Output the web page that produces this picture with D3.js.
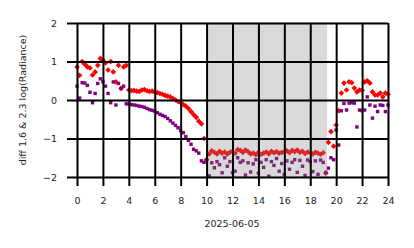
<!DOCTYPE html>
<html>
<head>
<meta charset="utf-8">
<script src="https://cdn.jsdelivr.net/npm/d3@7"></script>
<style>
  html, body { margin: 0; padding: 0; background: #fff; }
  svg text { font-family: "DejaVu Sans", sans-serif; fill: #222; }
</style>
</head>
<body>
<svg id="chart" width="414" height="248"></svg>
<script>
// hours of day (2025-06-05), one sample every 0.2 h
const hours = [
  0.0, 0.2, 0.4, 0.6, 0.8, 1.0, 1.2, 1.4, 1.6, 1.8,
  2.0, 2.2, 2.4, 2.6, 2.8, 3.0, 3.2, 3.4, 3.6, 3.8,
  4.0, 4.2, 4.4, 4.6, 4.8, 5.0, 5.2, 5.4, 5.6, 5.8,
  6.0, 6.2, 6.4, 6.6, 6.8, 7.0, 7.2, 7.4, 7.6, 7.8,
  8.0, 8.2, 8.4, 8.6, 8.8, 9.0, 9.2, 9.4, 9.6, 9.8,
  10.0, 10.2, 10.4, 10.6, 10.8, 11.0, 11.2, 11.4, 11.6, 11.8,
  12.0, 12.2, 12.4, 12.6, 12.8, 13.0, 13.2, 13.4, 13.6, 13.8,
  14.0, 14.2, 14.4, 14.6, 14.8, 15.0, 15.2, 15.4, 15.6, 15.8,
  16.0, 16.2, 16.4, 16.6, 16.8, 17.0, 17.2, 17.4, 17.6, 17.8,
  18.0, 18.2, 18.4, 18.6, 18.8, 19.0, 19.2, 19.4, 19.6, 19.8,
  20.0, 20.2, 20.4, 20.6, 20.8, 21.0, 21.2, 21.4, 21.6, 21.8,
  22.0, 22.2, 22.4, 22.6, 22.8, 23.0, 23.2, 23.4, 23.6, 23.8,
  24.0
];

// red diamonds
const diffRed = [
  0.86, 0.64, 1.00, 0.93, 0.86, 0.83, 0.65, 0.73, 0.90, 1.08,
  1.04, 0.96, 0.78, 1.00, 0.73, 0.47, 0.90, 0.30, 0.86, 0.90,
  0.26, 0.24, 0.25, 0.23, 0.22, 0.26, 0.27, 0.24, 0.22, 0.23,
  0.21, 0.19, 0.17, 0.15, 0.12, 0.10, 0.08, 0.04, 0.00, -0.04,
  -0.07, -0.12, -0.16, -0.22, -0.30, -0.38, -0.45, -0.55, -0.62, -1.00,
  -1.55, -1.40, -1.32, -1.36, -1.40, -1.33, -1.38, -1.35, -1.40, -1.36,
  -1.33, -1.38, -1.29, -1.31, -1.36, -1.30, -1.34, -1.40, -1.38, -1.42,
  -1.36, -1.41, -1.38, -1.35, -1.40, -1.33, -1.37, -1.34, -1.38, -1.36,
  -1.35, -1.32, -1.37, -1.31, -1.34, -1.30, -1.36, -1.33, -1.39, -1.35,
  -1.37, -1.40, -1.36, -1.38, -1.41, -1.37, -1.90, -1.10, -0.82, -1.20,
  -0.65, -0.28, 0.18, 0.44, 0.26, 0.47, 0.45, 0.31, 0.21, 0.26,
  0.25, 0.47, 0.50, 0.44, 0.21, 0.13, 0.13, 0.18, 0.08, 0.18,
  0.15
];

// purple squares
const diffPurple = [
  0.36, 0.05, 0.45, 0.44, 0.38, 0.20, -0.07, 0.17, 0.43, 0.55,
  0.47, 0.36, 0.17, -0.07, 0.47, -0.13, 0.43, 0.30, 0.36, -0.10,
  -0.10, -0.12, -0.13, -0.14, -0.16, -0.17, -0.19, -0.22, -0.25, -0.27,
  -0.29, -0.33, -0.37, -0.40, -0.43, -0.48, -0.54, -0.60, -0.66, -0.72,
  -0.80, -0.85, -0.95, -1.05, -1.15, -1.28, -1.32, -1.38, -1.58, -1.62,
  -1.55, -1.97, -1.63, -1.76, -1.60, -1.68, -1.89, -1.50, -1.72, -1.60,
  -1.89, -1.85, -1.50, -1.62, -1.58, -1.95, -1.63, -1.87, -1.66, -1.55,
  -1.90, -1.62, -1.75, -1.55, -1.98, -1.60, -1.70, -1.52, -1.85, -1.65,
  -1.93, -1.58, -1.80, -1.62, -1.55, -1.88, -1.57, -1.72, -1.96, -1.56,
  -1.60, -1.86, -1.58, -1.93, -1.56, -1.62, -1.88, -1.77, -1.50, -1.55,
  -0.78, -1.17, -0.28, -0.09, -0.26, -0.08, -0.07, -0.08, -0.70, -0.26,
  -0.28, -0.26, 0.08, -0.13, -0.47, -0.16, -0.30, -0.13, -0.14, -0.30,
  -0.13
];

const xTicks = [0, 2, 4, 6, 8, 10, 12, 14, 16, 18, 20, 22, 24];
const yTicks = [-2, -1, 0, 1, 2];
const nightSpan = [10, 19.3];

const svg = d3.select("#chart");
const margin = { left: 77, right: 26, top: 23, bottom: 71 };
const width = 414, height = 248;

const x = d3.scaleLinear().domain([0, 24]).range([margin.left, width - margin.right]);
const y = d3.scaleLinear().domain([-2, 2]).range([height - margin.bottom, margin.top]);

// faint frame
svg.append("rect")
  .attr("x", x(0)).attr("y", y(2))
  .attr("width", x(24) - x(0)).attr("height", y(-2) - y(2))
  .attr("fill", "none").attr("stroke", "#ccc").attr("stroke-width", 1);

const redPts = hours.map((h, i) => ({ h, v: diffRed[i] }));
const purplePts = hours.map((h, i) => ({ h, v: diffPurple[i] }));

svg.append("g").selectAll("path")
  .data(redPts)
  .enter().append("path")
  .attr("d", d3.symbol().type(d3.symbolSquare).size(16))
  .attr("transform", d => `translate(${x(d.h)},${y(d.v)}) rotate(45)`)
  .attr("fill", "red");

svg.append("g").selectAll("rect")
  .data(purplePts)
  .enter().append("rect")
  .attr("x", d => x(d.h) - 1.7)
  .attr("y", d => y(d.v) - 1.7)
  .attr("width", 3.4).attr("height", 3.4)
  .attr("fill", "purple");

// shaded span on top of the markers
svg.append("rect")
  .attr("x", x(nightSpan[0])).attr("y", y(2))
  .attr("width", x(nightSpan[1]) - x(nightSpan[0]))
  .attr("height", y(-2) - y(2))
  .attr("fill", "gray").attr("fill-opacity", 0.3);

// grid + long ticks
const xAxis = d3.axisBottom(x).tickValues(xTicks).tickSize(-(y(-2) - y(2)) - 9)
  .tickFormat(d3.format("d"));
svg.append("g")
  .attr("transform", `translate(0,${y(-2) + 9})`)
  .call(xAxis)
  .call(g => g.select(".domain").remove())
  .call(g => g.selectAll("line").attr("stroke", "#000").attr("stroke-width", 2))
  .call(g => g.selectAll("text").attr("y", 11).attr("font-size", 9.5));

const yAxis = d3.axisLeft(y).tickValues(yTicks).tickSize(-(x(24) - x(0)) - 10)
  .tickFormat(d => d < 0 ? "\u2212" + Math.abs(d) : d);
svg.append("g")
  .attr("transform", `translate(${x(0) - 10},0)`)
  .call(yAxis)
  .call(g => g.select(".domain").remove())
  .call(g => g.selectAll("line").attr("stroke", "#000").attr("stroke-width", 2))
  .call(g => g.selectAll("text").attr("x", -10).attr("font-size", 9.5));

svg.append("text")
  .attr("x", 232).attr("y", 227)
  .attr("text-anchor", "middle").attr("font-size", 9.5)
  .text("2025-06-05");

svg.append("text")
  .attr("transform", `translate(26,${(y(2) + y(-2)) / 2}) rotate(-90)`)
  .attr("text-anchor", "middle").attr("font-size", 9.5)
  .text("diff 1.6 & 2.3  log(Radiance)");
</script>
</body>
</html>
